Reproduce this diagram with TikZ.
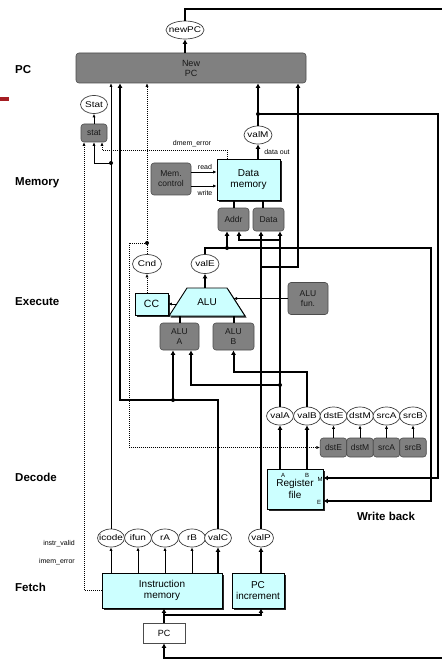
\documentclass[tikz,border=0pt]{standalone}
\usepackage{fontspec}
\setmainfont{Liberation Sans}
\usetikzlibrary{arrows.meta,shadows,calc,shapes.geometric}
\definecolor{lcyan}{RGB}{204,255,255}
\definecolor{gboxc}{RGB}{128,128,128}
\definecolor{barred}{RGB}{165,30,35}
\newcommand\zb[1]{\makebox[0pt]{\scalebox{1.2}[1]{#1}}}
\begin{document}
\begin{tikzpicture}[x=1pt,y=-1pt,
  gbox/.style={draw=black!70, line width=0.6pt, fill=gboxc, rounded corners=3pt, align=center, inner sep=0pt, font=\fontsize{8.5}{9.5}\selectfont, text=black!90},
  cbox/.style={draw=black, line width=0.9pt, fill=lcyan, align=center, inner sep=0pt, drop shadow={shadow xshift=1.6pt, shadow yshift=-1.6pt, fill=black, opacity=0.85}, font=\fontsize{10}{11.5}\selectfont},
  ell/.style={draw=black!75, line width=0.7pt, fill=white, ellipse, inner sep=0pt, minimum width=27pt, minimum height=18pt, font=\fontsize{8.3}{9}\selectfont},
  stage/.style={anchor=west, inner sep=0pt, font=\fontsize{11.5}{12}\selectfont\bfseries},
  lab/.style={inner sep=0pt, font=\fontsize{7}{8}\selectfont},
  tiny/.style={inner sep=0pt, font=\fontsize{6}{6}\selectfont},
  wthick/.style={line width=2pt, >={Latex[length=4.5pt,width=5pt]}},
  wthin/.style={line width=0.7pt, >={Latex[length=3.5pt,width=3.2pt]}},
  wdot/.style={line width=0.7pt, dash pattern=on 1pt off 1pt, >={Latex[length=3.5pt,width=3.2pt]}},
  jdot/.style={circle, fill=black, inner sep=0pt, minimum size=4pt}
]
\fill[white] (0,0) rectangle (441,660);
\useasboundingbox (0,0) rectangle (441,660);

% stage labels
\node[stage] (lpc) at (15,70) {PC};
\node[stage] (lmem) at (15,183) {Memory};
\node[stage] (lexe) at (15,302) {Execute};
\node[stage] (ldec) at (15,477) {Decode};
\node[stage] (lfet) at (15,587) {Fetch};
\node[stage, anchor=center] (lwb) at (386,516) {Write back};
\fill[barred] (0,97.5) rectangle (9,101.5);

% PC stage
\node[ell, minimum width=38pt] (newpc) at (185,30) {\zb{newPC}};
\node[gbox, minimum width=230pt, minimum height=30pt, font=\fontsize{9}{10}\selectfont] (npc) at (191,68) {New\\PC};

% status
\node[ell] (Stat) at (94,104.5) {\zb{Stat}};
\node[gbox, minimum width=26pt, minimum height=18pt] (statb) at (94,133) {stat};

% memory stage
\node[ell, minimum width=28pt] (valM) at (258,135) {\zb{valM}};
\node[cbox, minimum width=63pt, minimum height=41pt] (dm) at (248.5,179.5) {Data\\memory};
\node[gbox, minimum width=40pt, minimum height=32pt, font=\fontsize{8.5}{10}\selectfont] (memc) at (171,179) {Mem.\\control};
\node[gbox, minimum width=31pt, minimum height=23pt] (addr) at (233.5,219.5) {Addr};
\node[gbox, minimum width=31pt, minimum height=23pt] (data) at (268.5,219.5) {Data};

% execute stage
\node[ell, minimum width=29pt, minimum height=19pt] (cnd) at (147,264) {\zb{Cnd}};
\node[ell, minimum width=28pt, minimum height=19pt] (valE) at (205,264) {\zb{valE}};
\node[cbox, minimum width=33pt, minimum height=22pt, font=\fontsize{10.5}{11}\selectfont] (cc) at (151.5,304) {CC};
\fill[black!85] (170.6,317.6) -- (188.6,289.6) -- (228.6,289.6) -- (246.6,317.6) -- cycle;
\draw[fill=lcyan, line width=0.9pt] (169,316) -- (187,288) -- (227,288) -- (245,316) -- cycle;
\node[font=\fontsize{10}{11}\selectfont, inner sep=0pt] (alu) at (207,302) {ALU};
\node[gbox, minimum width=39pt, minimum height=27pt] (alua) at (179.5,336.5) {ALU\\A};
\node[gbox, minimum width=41pt, minimum height=27pt] (alub) at (233.5,336.5) {ALU\\B};
\node[gbox, minimum width=40pt, minimum height=32pt] (alufun) at (308,298.5) {ALU\\fun.};
\coordinate (aluBot) at (0,316);
\coordinate (aluTop) at (205,288);
\coordinate (aluL) at (177,304);
\coordinate (aluR) at (233.5,298.5);

% decode stage
\node[ell] (valA) at (280,416) {\zb{valA}};
\node[ell] (valB) at (307,416) {\zb{valB}};
\node[ell] (dstE) at (333.5,416) {\zb{dstE}};
\node[ell] (dstM) at (360,416) {\zb{dstM}};
\node[ell] (srcA) at (386.5,416) {\zb{srcA}};
\node[ell] (srcB) at (413,416) {\zb{srcB}};
\node[gbox, minimum width=26.5pt, minimum height=19pt] (dsteb) at (333.5,447.5) {dstE};
\node[gbox, minimum width=26.5pt, minimum height=19pt] (dstmb) at (360,447.5) {dstM};
\node[gbox, minimum width=26.5pt, minimum height=19pt] (srcab) at (386.5,447.5) {srcA};
\node[gbox, minimum width=26.5pt, minimum height=19pt] (srcbb) at (413,447.5) {srcB};
\node[cbox, minimum width=56pt, minimum height=40pt] (rf) at (295,489) {Register\\file};
\node[tiny] (rfa) at (283,475.5) {A};
\node[tiny] (rfb) at (307,475.5) {B};
\node[tiny] (rfm) at (320,479) {M};
\node[tiny] (rfe) at (319,502) {E};

% fetch stage
\node[ell] (icode) at (111,538) {\zb{icode}};
\node[ell] (ifun) at (138,538) {\zb{ifun}};
\node[ell] (rA) at (165,538) {\zb{rA}};
\node[ell] (rB) at (192,538) {\zb{rB}};
\node[ell] (valC) at (218,538) {\zb{valC}};
\node[ell, minimum width=25pt] (valP) at (261,538) {\zb{valP}};
\node[cbox, minimum width=120pt, minimum height=35pt] (im) at (162,590.5) {Instruction\\memory};
\node[cbox, minimum width=52pt, minimum height=35pt] (pcinc) at (258,590.5) {PC\\increment};
\node[draw=black!70, line width=0.7pt, fill=white, minimum width=42pt, minimum height=20pt, inner sep=0pt, font=\fontsize{9}{10}\selectfont] (pc) at (164,633) {PC};

% small labels
\node[lab] (ldmem) at (192,144) {dmem\_error};
\node[lab] (ldout) at (277,152) {data out};
\node[lab] (lread) at (205,166.5) {read};
\node[lab] (lwrite) at (205,193) {write};
\node[lab, anchor=east] (linstr) at (75,544) {instr\_valid};
\node[lab, anchor=east] (limem) at (75,562) {imem\_error};

% junction coordinates
\coordinate (topR) at (480,9);
\coordinate (botR) at (480,658);
\coordinate (jI) at (111,163);
\coordinate (dmE) at (227,159);
\coordinate (jC1) at (218,400);
\coordinate (jC) at (173,400);
\coordinate (cC) at (120,400);
\coordinate (jD) at (147,243);
\coordinate (cL) at (129,243);
\coordinate (jE) at (227,248);
\coordinate (cE1) at (205,248);
\coordinate (cE2) at (431,248);
\coordinate (jM) at (258,114);
\coordinate (cM) at (438,114);
\coordinate (jA1) at (280,385);
\coordinate (jA2) at (280,240);
\coordinate (cB) at (307,372);
\coordinate (jP) at (261,267);
\coordinate (cP) at (298,267);
\coordinate (jPC) at (164,615);

% newPC loop
\draw[wthick,->] (newpc.north) |- (topR) -- (botR) -| (pc.south);
\draw[wthick,->] (newpc.south |- npc.north) -- (newpc.south);

% status
\draw[wthin,->] (statb.north) -- (Stat.south);
\draw[wthin,->] (icode.north) -- (icode.north |- npc.south);
\draw[wthin,->] (jI) -| (statb.south);
\draw[wdot,->] (dmE) -- ++(0,-9) -| ([xshift=8pt]statb.south);
\draw[wdot,->] (im.west) -| ([xshift=-10pt]statb.south);

% valC
\draw[wthick,->] (valC.north) -- (jC1) -- (cC) -- (cC |- npc.south);
\draw[wthick,->] (jC) -- (jC |- alua.south);

% Cnd
\draw[wdot,->] (cnd.north) -- (cnd.north |- npc.south);
\draw[wdot,->] (jD) -- (cL) |- (dsteb.west);
\draw[wdot,->] (cc.north -| cnd) -- (cnd.south);

% ALU
\draw[wthin,->] (aluL) -- (cc.east);
\draw[wthick,->] (aluTop) -- (valE.south);
\draw[wthin,->] (alufun.west) -- (aluR);
\draw[wthick] (alua.north) -- (alua.north |- aluBot);
\draw[wthick] (alub.north) -- (alub.north |- aluBot);

% valE
\draw[wthick,->] (valE.north) -- (cE1) -- (cE2) |- ([yshift=-12pt]rf.east);
\draw[wthick,->] (jE) -- (jE |- addr.south);

% valM
\draw[wthick,->] (dm.north -| valM) -- (valM.south);
\draw[wthick,->] (valM.north) -- (jM) -- (jM |- npc.south);
\draw[wthick,->] (jM) -- (cM) |- ([yshift=11pt]rf.east);

% Addr / Data to memory
\draw[wthick] (addr.north) -- (addr.north |- dm.south);
\draw[wthick] ([xshift=-5.5pt]data.north) -- ([xshift=-5.5pt]data.north |- dm.south);

% memory control
\draw[wthin,->] ([yshift=7pt]memc.east) -- ([yshift=7pt]memc.east -| dm.west);
\draw[wthin,->] ([yshift=-7pt]memc.east) -- ([yshift=-7pt]memc.east -| dm.west);

% valA
\draw[wthick,->] (rf.north -| valA) -- (valA.south);
\draw[wthick,->] (valA.north) -- (valA.north |- data.south);
\draw[wthick,->] (jA1) -| ([xshift=11.5pt]alua.south);
\draw[wthick,->] (jA2) -| ([xshift=5.5pt]addr.south);

% valB
\draw[wthick,->] (rf.north -| valB) -- (valB.south);
\draw[wthick,->] (valB.north) -- (cB) -| (alub.south);

% valP
\draw[wthick,->] (valP.south |- pcinc.north) -- (valP.south);
\draw[wthick,->] (valP.north) -- (valP.north |- data.south);
\draw[wthick,->] (jP) -- (cP) -- (cP |- npc.south);

% fetch outputs
\foreach \n in {icode,ifun,rA,rB} \draw[wthin,->] (\n.south |- im.north) -- (\n.south);
\draw[wthick,->] (valC.south |- im.north) -- (valC.south);

% PC
\draw[wthick,->] (pc.north) -- (pc.north |- im.south);
\draw[wthick,->] (jPC) -| ([xshift=3pt]pcinc.south);

% decode boxes to ellipses
\draw[wthin,->] (dsteb.north) -- (dstE.south);
\draw[wthin,->] (dstmb.north) -- (dstM.south);
\draw[wthin,->] (srcab.north) -- (srcA.south);
\draw[wthin,->] (srcbb.north) -- (srcB.south);

% junction dots
\node[jdot] (dM) at (jM) {};
\node[jdot] (dD) at (jD) {};
\node[jdot] (dE) at (jE) {};
\node[jdot] (dC) at (jC) {};
\node[jdot] (dA) at (jA1) {};
\node[jdot] (dI) at (jI) {};
\end{tikzpicture}
\end{document}
